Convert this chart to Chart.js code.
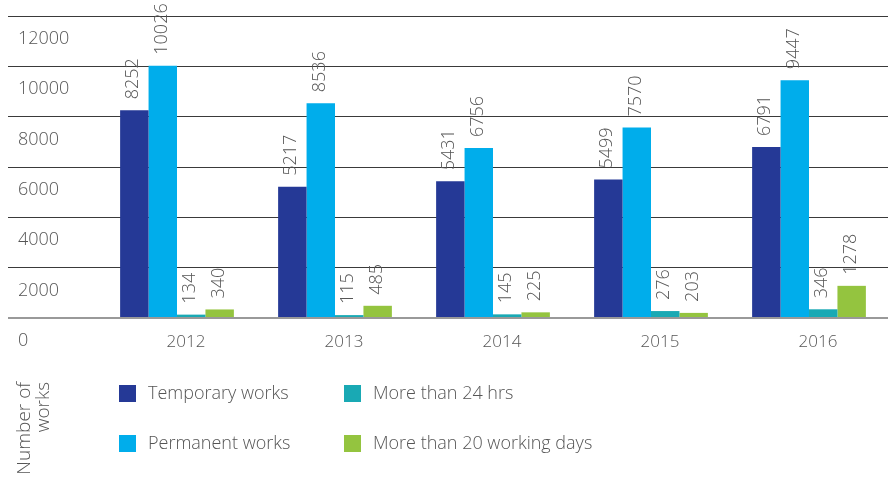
<!DOCTYPE html>
<html>
<head>
<meta charset="utf-8">
<script src="https://cdn.jsdelivr.net/npm/chart.js@4/dist/chart.umd.min.js"></script>
<style>
  html, body { margin: 0; padding: 0; background: #fff; }
  canvas { display: block; }
</style>
</head>
<body>
<canvas id="myChart" width="896" height="483"></canvas>
<script>
  const years = ["2012", "2013", "2014", "2015", "2016"];
  const temporaryWorks = [8252, 5217, 5431, 5499, 6791];
  const permanentWorks = [10026, 8536, 6756, 7570, 9447];
  const moreThan24Hrs = [134, 115, 145, 276, 346];
  const moreThan20Days = [340, 485, 225, 203, 1278];
  const yMax = 12000;
  const yStep = 2000;
  const axisTitle = ["Number of", "works"];

  const FONT = "'Open Sans', 'Noto Sans', sans-serif";
  const TEXT = "#555555";

  // value printed upright above each bar
  const barValues = {
    id: "barValues",
    afterDatasetsDraw(chart) {
      const ctx = chart.ctx;
      ctx.save();
      ctx.font = "300 18px " + FONT;
      ctx.fillStyle = TEXT;
      ctx.textAlign = "left";
      ctx.textBaseline = "middle";
      chart.data.datasets.forEach((ds, i) => {
        chart.getDatasetMeta(i).data.forEach((bar, j) => {
          ctx.save();
          ctx.translate(bar.x - 1, bar.y - 11);
          ctx.rotate(-Math.PI / 2);
          ctx.fillText(String(ds.data[j]), 0, 0);
          ctx.restore();
        });
      });
      ctx.restore();
    },
  };

  // 2x2 legend (columns: works / delays) and the rotated axis title
  const bottomLegend = {
    id: "bottomLegend",
    afterDraw(chart) {
      const ctx = chart.ctx;
      const cols = [119, 344];
      const rows = [385, 435];
      ctx.save();
      ctx.font = "300 18px " + FONT;
      ctx.textBaseline = "middle";
      ctx.textAlign = "left";
      chart.data.datasets.forEach((ds, i) => {
        const x = cols[i >= 2 ? 1 : 0];
        const y = rows[i % 2];
        ctx.fillStyle = ds.backgroundColor;
        ctx.fillRect(x, y, 17, 17);
        ctx.fillStyle = TEXT;
        ctx.fillText(ds.label, x + 29, y + 9);
      });

      ctx.font = "300 19px " + FONT;
      ctx.textAlign = "right";
      ctx.translate(0, 382);
      ctx.rotate(-Math.PI / 2);
      ctx.fillText(axisTitle[0], 0, 25);
      ctx.fillText(axisTitle[1], 0, 44);
      ctx.restore();
    },
  };

  const ctx = document.getElementById("myChart");

  new Chart(ctx, {
    type: "bar",
    data: {
      labels: years,
      datasets: [
        { label: "Temporary works", data: temporaryWorks, backgroundColor: "#253996" },
        { label: "Permanent works", data: permanentWorks, backgroundColor: "#00adeb" },
        { label: "More than 24 hrs", data: moreThan24Hrs, backgroundColor: "#19a9b4" },
        { label: "More than 20 working days", data: moreThan20Days, backgroundColor: "#94c43f" },
      ],
    },
    options: {
      responsive: false,
      animation: false,
      layout: { padding: { top: 16, left: 18, right: 8, bottom: 0 } },
      datasets: {
        bar: { categoryPercentage: 0.72, barPercentage: 1.0 },
      },
      plugins: {
        legend: { display: false },
        tooltip: { enabled: false },
      },
      scales: {
        x: {
          grid: { display: false, drawTicks: false },
          border: { display: false },
          ticks: {
            color: TEXT,
            font: { family: FONT, size: 17, weight: 300 },
            padding: 14,
            labelOffset: 9,
            maxRotation: 0,
          },
          afterFit(scale) {
            scale.height = 165;
          },
        },
        y: {
          min: 0,
          max: yMax,
          border: { display: false },
          grid: {
            color: (c) => (c.tick && c.tick.value === 0 ? "#999999" : "#3a3a3a"),
            lineWidth: (c) => (c.tick && c.tick.value === 0 ? 2 : 1),
            tickLength: 90,
          },
          ticks: {
            stepSize: yStep,
            color: TEXT,
            font: { family: FONT, size: 18, weight: 300 },
            crossAlign: "far",
            labelOffset: 23,
            callback: (v) => String(v),
          },
          afterFit(scale) {
            scale.width = 80;
          },
        },
      },
    },
    plugins: [barValues, bottomLegend],
  });
</script>
</body>
</html>
